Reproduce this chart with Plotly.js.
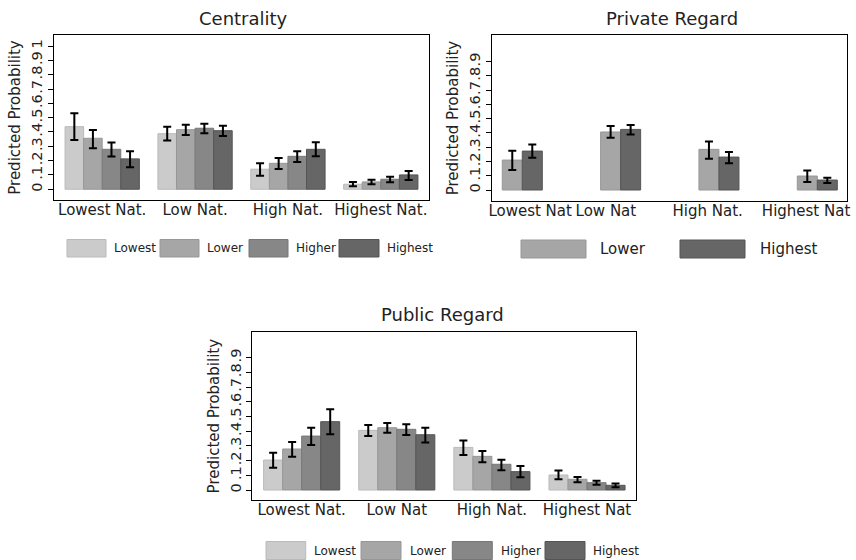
<!DOCTYPE html>
<html>
<head>
<meta charset="utf-8">
<script src="https://cdn.plot.ly/plotly-3.0.1.min.js"></script>
<style>
  html, body { margin: 0; padding: 0; background: #ffffff; }
  #chart { width: 856px; height: 560px; }
</style>
</head>
<body>
<div id="chart"></div>
<script>
// ---- Data: predicted probabilities with 95% confidence bounds ----
const levels = ['Lowest', 'Lower', 'Higher', 'Highest'];

// Centrality
const centralityCats = ['Lowest Nat.', 'Low Nat.', 'High Nat.', 'Highest Nat.'];
const centralityLowest    = [0.437, 0.388, 0.140, 0.035];
const centralityLowestLo  = [0.344, 0.340, 0.095, 0.021];
const centralityLowestHi  = [0.530, 0.437, 0.181, 0.051];
const centralityLower     = [0.356, 0.416, 0.181, 0.051];
const centralityLowerLo   = [0.286, 0.379, 0.142, 0.035];
const centralityLowerHi   = [0.414, 0.451, 0.219, 0.067];
const centralityHigher    = [0.279, 0.426, 0.230, 0.070];
const centralityHigherLo  = [0.228, 0.391, 0.191, 0.049];
const centralityHigherHi  = [0.326, 0.458, 0.265, 0.088];
const centralityHighest   = [0.212, 0.409, 0.279, 0.100];
const centralityHighestLo = [0.153, 0.372, 0.230, 0.065];
const centralityHighestHi = [0.265, 0.444, 0.328, 0.128];

// Private Regard
const privateCats = ['Lowest Nat', 'Low Nat', 'High Nat.', 'Highest Nat'];
const privateLower     = [0.210, 0.407, 0.285, 0.098];
const privateLowerLo   = [0.140, 0.367, 0.220, 0.056];
const privateLowerHi   = [0.276, 0.449, 0.341, 0.136];
const privateHighest   = [0.273, 0.425, 0.231, 0.070];
const privateHighestLo = [0.227, 0.390, 0.187, 0.049];
const privateHighestHi = [0.320, 0.456, 0.266, 0.086];

// Public Regard
const publicCats = ['Lowest Nat.', 'Low Nat', 'High Nat.', 'Highest Nat'];
const publicLowest    = [0.204, 0.406, 0.290, 0.102];
const publicLowestLo  = [0.152, 0.367, 0.238, 0.073];
const publicLowestHi  = [0.254, 0.442, 0.336, 0.132];
const publicLower     = [0.279, 0.424, 0.229, 0.073];
const publicLowerLo   = [0.227, 0.390, 0.188, 0.052];
const publicLowerHi   = [0.327, 0.456, 0.265, 0.088];
const publicHigher    = [0.367, 0.413, 0.175, 0.050];
const publicHigherLo  = [0.306, 0.374, 0.134, 0.036];
const publicHigherHi  = [0.424, 0.447, 0.206, 0.063];
const publicHighest   = [0.465, 0.376, 0.125, 0.032];
const publicHighestLo = [0.379, 0.324, 0.086, 0.018];
const publicHighestHi = [0.549, 0.424, 0.163, 0.045];

const tickVals10 = [0, 0.1, 0.2, 0.3, 0.4, 0.5, 0.6, 0.7, 0.8, 0.9, 1];
const tickText10 = ['0', '.1', '.2', '.3', '.4', '.5', '.6', '.7', '.8', '.9', '1'];
const tickVals9 = [0, 0.1, 0.2, 0.3, 0.4, 0.5, 0.6, 0.7, 0.8, 0.9];
const tickText9 = ['0', '.1', '.2', '.3', '.4', '.5', '.6', '.7', '.8', '.9'];

// ---- Styling ----
const FONT = 'DejaVu Sans, Liberation Sans, Arial, sans-serif';
const TEXT = '#222222';
const fills = { Lowest: '#cbcbcb', Lower: '#a6a6a6', Higher: '#878787', Highest: '#666666' };
const edges = { Lowest: '#bababa', Lower: '#979797', Higher: '#777777', Highest: '#555555' };

function barTrace(level, xs, vals, lo, hi, xa, ya, extra) {
  const t = {
    type: 'bar',
    name: level,
    x: xs,
    y: vals,
    xaxis: xa,
    yaxis: ya,
    showlegend: false,
    marker: { color: fills[level], line: { color: edges[level], width: 1 } },
    error_y: {
      type: 'data',
      symmetric: false,
      array: vals.map((v, i) => hi[i] - v),
      arrayminus: vals.map((v, i) => v - lo[i]),
      color: '#000000',
      thickness: 2,
      width: 4
    },
    hoverinfo: 'skip'
  };
  return Object.assign(t, extra || {});
}

// Private Regard: two narrow side-by-side bars per category on a numeric axis,
// labelled with the category names
const privateIdx = privateCats.map((c, i) => i);
const PR_W = 0.2035;
const privateLabelPos = [0.08, 0.85, 1.885, 2.886];

const traces = [
  barTrace('Lowest',  centralityCats, centralityLowest,  centralityLowestLo,  centralityLowestHi,  'x', 'y'),
  barTrace('Lower',   centralityCats, centralityLower,   centralityLowerLo,   centralityLowerHi,   'x', 'y'),
  barTrace('Higher',  centralityCats, centralityHigher,  centralityHigherLo,  centralityHigherHi,  'x', 'y'),
  barTrace('Highest', centralityCats, centralityHighest, centralityHighestLo, centralityHighestHi, 'x', 'y'),

  barTrace('Lower',   privateIdx, privateLower,   privateLowerLo,   privateLowerHi,   'x2', 'y2', { width: PR_W, offset: -PR_W }),
  barTrace('Highest', privateIdx, privateHighest, privateHighestLo, privateHighestHi, 'x2', 'y2', { width: PR_W, offset: 0 }),

  barTrace('Lowest',  publicCats, publicLowest,  publicLowestLo,  publicLowestHi,  'x3', 'y3'),
  barTrace('Lower',   publicCats, publicLower,   publicLowerLo,   publicLowerHi,   'x3', 'y3'),
  barTrace('Higher',  publicCats, publicHigher,  publicHigherLo,  publicHigherHi,  'x3', 'y3'),
  barTrace('Highest', publicCats, publicHighest, publicHighestLo, publicHighestHi, 'x3', 'y3')
];

// ---- Axes ----
const W = 856, H = 560;
const px = v => v / W;          // horizontal pixel -> paper fraction
const py = v => 1 - v / H;      // vertical pixel (from top) -> paper fraction

function xAxis(domain, range, anchor, extra) {
  return Object.assign({
    domain: domain, range: range, anchor: anchor, type: 'category',
    showline: true, mirror: true, linecolor: '#000000', linewidth: 1,
    ticks: '', showgrid: false, zeroline: false, fixedrange: true,
    ticklabelstandoff: -4,
    tickfont: { family: FONT, size: 15, color: TEXT }
  }, extra || {});
}
function yAxis(domain, range, anchor, vals, text) {
  return {
    domain: domain, range: range, anchor: anchor,
    showline: true, mirror: true, linecolor: '#000000', linewidth: 1,
    ticks: 'outside', ticklen: 5, tickcolor: '#000000', tickwidth: 1,
    tickvals: vals, ticktext: text, tickangle: -90,
    tickfont: { family: FONT, size: 14.5, color: TEXT },
    showgrid: false, zeroline: false, fixedrange: true,
    title: { text: 'Predicted Probability', font: { family: FONT, size: 15, color: TEXT }, standoff: 4 }
  };
}

const layout = {
  width: W, height: H,
  margin: { l: 0, r: 0, t: 0, b: 0 },
  paper_bgcolor: '#ffffff', plot_bgcolor: '#ffffff',
  barmode: 'group', bargap: 0.2, bargroupgap: 0,
  showlegend: false,
  xaxis:  xAxis([px(54), px(429)],    [-0.519, 3.519], 'y'),
  yaxis:  yAxis([py(200), py(35)],    [-0.075, 1.077], 'x', tickVals10, tickText10),
  xaxis2: xAxis([px(491.7), px(846.7)], [-0.311, 3.299], 'y2',
                { type: 'linear', tickmode: 'array', tickvals: privateLabelPos, ticktext: privateCats }),
  yaxis2: yAxis([py(201), py(35)],    [-0.077, 1.087], 'x2', tickVals9, tickText9),
  xaxis3: xAxis([px(252.3), px(636)], [-0.519, 3.515], 'y3'),
  yaxis3: yAxis([py(500), py(332.3)], [-0.068, 1.073], 'x3', tickVals9, tickText9),
  annotations: [],
  shapes: []
};

// Panel titles
function panelTitle(text, xc, yc) {
  layout.annotations.push({
    text: text, xref: 'paper', yref: 'paper', x: px(xc), y: py(yc),
    xanchor: 'center', yanchor: 'middle', showarrow: false,
    font: { family: FONT, size: 18, color: TEXT }
  });
}
panelTitle('Centrality', 244, 18);
panelTitle('Private Regard', 671.7, 19);
panelTitle('Public Regard', 442.8, 314);

// Legend keys: wide swatches with labels beside them
function legendKey(level, x0, x1, y0, y1, labelX, fontSize) {
  layout.shapes.push({
    type: 'rect', xref: 'paper', yref: 'paper',
    x0: px(x0), x1: px(x1), y0: py(y1), y1: py(y0),
    fillcolor: fills[level], line: { color: edges[level], width: 1 }
  });
  layout.annotations.push({
    text: level, xref: 'paper', yref: 'paper',
    x: px(labelX), y: py((y0 + y1) / 2), xanchor: 'left', yanchor: 'middle',
    showarrow: false, font: { family: FONT, size: fontSize, color: TEXT }
  });
}
// Centrality legend
legendKey('Lowest',  67,  106, 239.5, 257, 112, 12);
legendKey('Lower',   160, 199, 239.5, 257, 205, 12);
legendKey('Higher',  249, 288, 239.5, 257, 294, 12);
legendKey('Highest', 339, 379, 239.5, 257, 385, 12);
// Private Regard legend
legendKey('Lower',   521, 586, 240, 258, 598, 15);
legendKey('Highest', 680, 745, 240, 258, 758, 15);
// Public Regard legend
legendKey('Lowest',  266, 305.7, 541.5, 559.5, 312, 12);
legendKey('Lower',   361, 401,   541.5, 559.5, 408, 12);
legendKey('Higher',  452.3, 492.3, 541.5, 559.5, 499, 12);
legendKey('Highest', 545, 585,   541.5, 559.5, 591, 12);

Plotly.newPlot('chart', traces, layout, { staticPlot: true, displayModeBar: false });
</script>
</body>
</html>
